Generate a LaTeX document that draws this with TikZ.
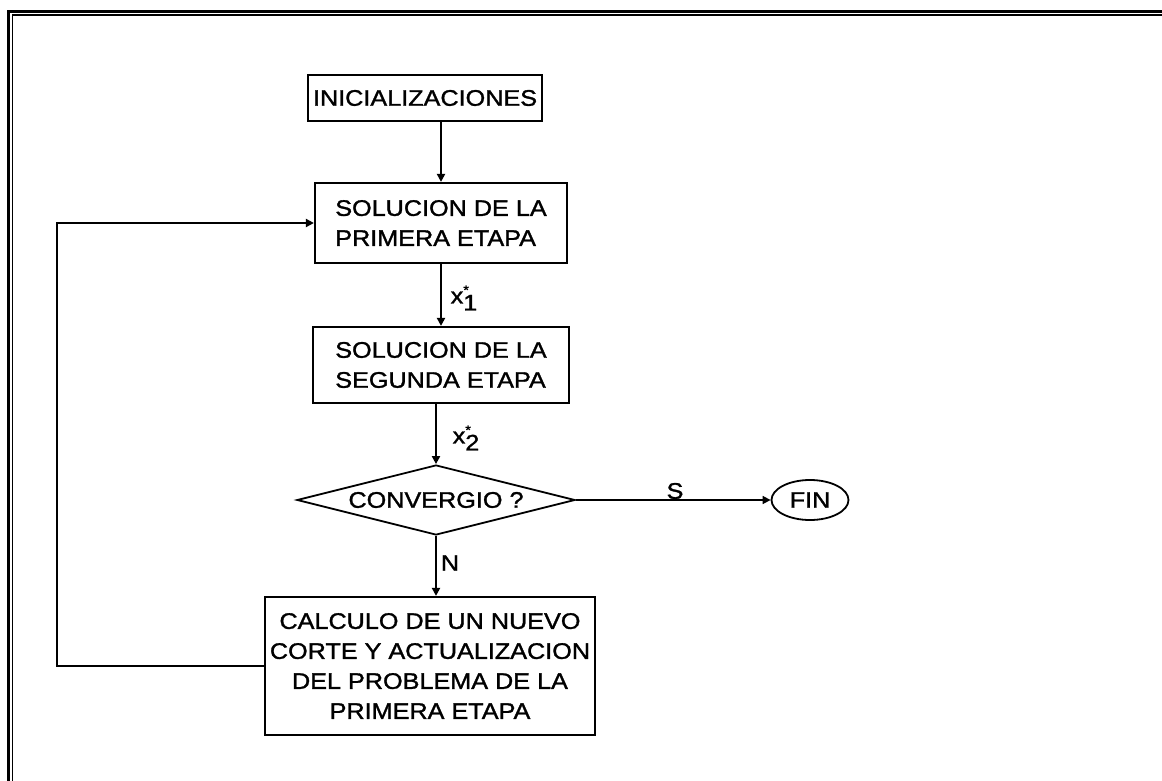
\documentclass[tikz,border=0pt]{standalone}
\usepackage{fontspec}
\setmainfont{Liberation Sans}[FakeStretch=1.12,FakeBold=1.4]
\usetikzlibrary{shapes.geometric,arrows.meta}
\tikzset{
  txt/.style={font=\fontsize{22.5}{30}\selectfont},
  box/.style={draw, line width=2.2pt, rectangle, inner sep=0pt, txt},
  arr/.style={line width=2.2pt, -{Triangle[length=8pt,width=8pt]}},
  harr/.style={line width=1.6pt, -{Triangle[length=8pt,width=8pt]}},
  lbl/.style={inner sep=0pt, txt},
}
\begin{document}
\begin{tikzpicture}[x=1pt,y=1pt]
\useasboundingbox (0,0) rectangle (1162,-781);
\fill[white] (0,0) rectangle (1162,-781);
% frame
\draw[line width=3pt] (8.5,-900) -- (8.5,-11.3) -- (1250,-11.3);
\draw[line width=1.6pt] (12.3,-900) -- (12.3,-15) -- (1250,-15);
% nodes
\node[box, minimum width=234pt, minimum height=46pt] (ini) at (425,-98) {INICIALIZACIONES};
\node[box, minimum width=252pt, minimum height=80pt, align=left] (pe) at (441,-223) {SOLUCION DE LA\\PRIMERA ETAPA};
\node[box, minimum width=256pt, minimum height=76pt, align=left] (se) at (441,-365) {SOLUCION DE LA\\SEGUNDA ETAPA};
\node[draw, diamond, aspect=4, line width=1.8pt, minimum width=278pt, minimum height=70pt, inner sep=0pt, txt] (conv) at (436,-500) {CONVERGIO ?};
\node[draw, ellipse, line width=1.8pt, minimum width=77pt, minimum height=40pt, inner sep=0pt, txt] (fin) at (810,-500) {FIN};
\node[box, minimum width=330pt, minimum height=138pt, align=center] (cal) at (430,-666) {CALCULO DE UN NUEVO\\CORTE Y ACTUALIZACION\\DEL PROBLEMA DE LA\\PRIMERA ETAPA};
\coordinate (fb) at (57,-445);
% connectors
\draw[arr] (ini.south -| pe.north) -- (pe.north);
\draw[arr] (pe.south) -- (se.north);
\draw[arr] (se.south -| conv.north) -- (conv.north);
\draw[arr] (conv.south) -- (conv.south |- cal.north);
\draw[harr] (conv.east) -- (fin.west);
\draw[arr] (cal.west) -| (fb) |- (pe.west);
% labels
\node[lbl] (x1) at (464,-298) {x\rlap{\raisebox{9pt}{\fontsize{13}{13}\selectfont *}}\raisebox{-7pt}{1}};
\node[lbl] (x2) at (466,-438) {x\rlap{\raisebox{9pt}{\fontsize{13}{13}\selectfont *}}\raisebox{-7pt}{2}};
\node[lbl] (nl) at (450,-563) {N};
\node[lbl] (sl) at (675,-491) {S};
\end{tikzpicture}
\end{document}
